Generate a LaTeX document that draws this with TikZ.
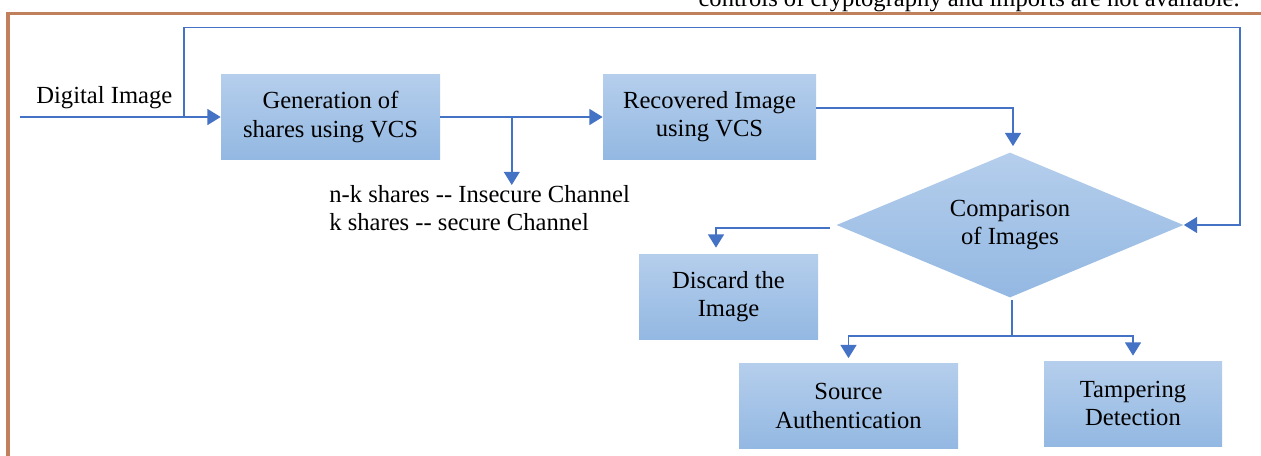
\documentclass[tikz,border=0pt]{standalone}
\usepackage{fontspec}
\setmainfont{Liberation Serif}
\usepackage{xcolor}
\usepackage{tikz}
\usetikzlibrary{
    arrows.meta,
    shapes.geometric,
    calc,
    positioning
}
\definecolor{boxtop}{HTML}{B5CEEC}
\definecolor{boxbot}{HTML}{93B8E2}
\definecolor{linkblue}{HTML}{4472C4}
\definecolor{pageframe}{HTML}{C0805C}
\tikzset{
    >={Triangle[width=9pt,length=7.5pt]},
    every node/.style={font=\fontsize{14}{16}\selectfont},
    box/.style={rectangle, top color=boxtop, bottom color=boxbot,
        draw=none, align=center, minimum height=1.7cm, inner sep=2pt},
    decision/.style={diamond, top color=boxtop, bottom color=boxbot,
        draw=none, align=center, shape aspect=2.39, inner sep=0pt,
        minimum width=6.94cm, minimum height=2.9cm},
    link/.style={draw=linkblue, line width=1pt},
}

\begin{document}
\begin{tikzpicture}[node distance=2cm,on grid]
    \useasboundingbox (0,0) rectangle (25.22,-9.12);
    \clip (0,0) rectangle (25.22,-9.12);
    % page frame and the cut line above it
    \draw[pageframe, line width=1.9pt] (0.16,-9.3) |- (25.4,-0.27);
    \node[anchor=base east, inner sep=0pt] (cut) at (24.8,-0.12)
        {controls of cryptography and imports are not available.};

    \node[box, minimum width=4.38cm] (gen) at (6.61,-2.34) {Generation of\\shares using VCS};
    \node[box, minimum width=4.26cm] (rec) [right=7.58cm of gen] {Recovered Image\\using VCS};
    \node[decision] (cmp) [below right=2.16cm and 6.01cm of rec] {Comparison\\of Images};
    \node[box, minimum width=3.58cm] (disc) [below left=1.43cm and 5.63cm of cmp] {Discard the\\Image};
    \node[box, minimum width=4.38cm] (src) [below left=3.62cm and 3.23cm of cmp] {Source\\Authentication};
    \node[box, minimum width=3.56cm] (tmp) [below right=3.57cm and 2.46cm of cmp] {Tampering\\Detection};

    \node[anchor=base west, inner sep=0pt] (dimg) at (0.72,-2.06) {Digital Image};
    \node[anchor=north west, align=left, inner sep=0pt] (shares) at (6.58,-3.7)
        {n-k shares -{}- Insecure Channel\\k shares -{}- secure Channel};

    \coordinate (in) at (0.4,-2.34);
    \coordinate (fb) at (3.68,-2.34);
    \coordinate (topr) at (24.8,-0.55);
    \coordinate (sh) at ($(gen.east)!0.44!(rec.west)$);

    \draw[link,->] (in) -- (gen.west);
    \draw[link,->] (fb) |- (topr) |- (cmp.east);
    \draw[link,->] (gen) -- (rec);
    \draw[link,->] (sh) -- (sh |- shares.north);
    \draw[link,->,shorten >=0.12cm] ([yshift=0.18cm]rec.east) -| ([xshift=0.06cm]cmp.north);
    \draw[link,->,shorten >=0.12cm] ([xshift=-0.12cm,yshift=-0.06cm]cmp.west) -| ([xshift=-0.25cm]disc.north);
    \draw[link] ([xshift=0.04cm,yshift=-0.04cm]cmp.south) -- ++(0,-0.72) coordinate (split);
    \draw[link,->,shorten >=0.1cm] (split) -| (src.north);
    \draw[link,->,shorten >=0.1cm] (split) -| (tmp.north);
\end{tikzpicture}
\end{document}
